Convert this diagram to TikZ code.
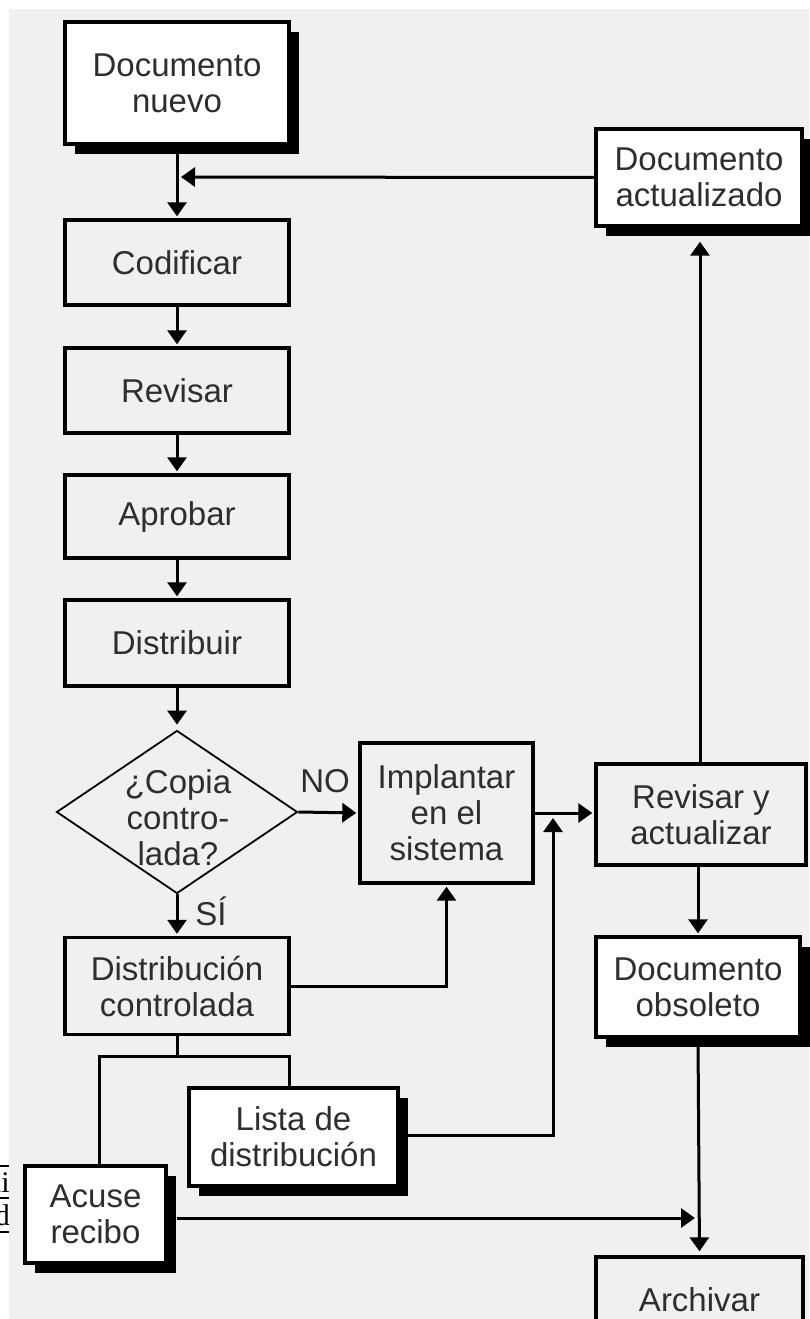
\documentclass[tikz,border=0pt]{standalone}
\usepackage{fontspec}
\setmainfont{Liberation Sans}
\newfontfamily\serifcut{Liberation Serif}
\usetikzlibrary{shapes.geometric,shadows,arrows.meta,calc}
\definecolor{bggray}{HTML}{F0F0F0}
\definecolor{inkgray}{HTML}{2E2E2E}
\begin{document}
\begin{tikzpicture}[x=1pt,y=-1pt,
  every node/.style={font=\fontsize{33}{36}\selectfont, text=inkgray, align=center},
  procbox/.style={draw=black, line width=3.4pt, fill=bggray, inner sep=0pt},
  docbox/.style={draw=black, line width=3.4pt, fill=white, inner sep=0pt,
    drop shadow={shadow xshift=10pt, shadow yshift=-10pt, fill=black, opacity=1}},
  decbox/.style={diamond, draw=black, line width=1.8pt, fill=bggray, inner sep=0pt},
  link/.style={draw=black, line width=3pt},
  arr/.style={link, -{Triangle[length=14pt,width=19pt]}, shorten >=2pt},
  tag/.style={font=\fontsize{33}{36}\selectfont}
]
% page and grey panel
\useasboundingbox (0,0) rectangle (809,1319);
\fill[white] (0,0) rectangle (809,1319);
\fill[bggray] (9,9) rectangle (809,1340);

% fragment of a neighbouring table at the left edge
\draw[black, line width=1.3pt] (0,1166) -- (9,1166) (0,1198) -- (9,1198) (0,1232) -- (9,1232);
\begin{scope}
  \clip (0,1160) rectangle (9,1240);
  \node[anchor=base east, font=\serifcut\fontsize{30}{30}\selectfont, text=black, inner sep=0pt] (fragA) at (10,1192) {ui};
  \node[anchor=base east, font=\serifcut\fontsize{30}{30}\selectfont, text=black, inner sep=0pt] (fragB) at (10,1225) {d};
\end{scope}

% left column
\node[docbox, minimum width=224pt, minimum height=122pt] (nuevo) at (177,83) {Documento\\nuevo};
\node[procbox, minimum width=224pt, minimum height=85pt] (cod) at (177,262.5) {Codificar};
\node[procbox, minimum width=224pt, minimum height=85pt] (rev) at (177,390.5) {Revisar};
\node[procbox, minimum width=224pt, minimum height=83pt] (apr) at (177,516.5) {Aprobar};
\node[procbox, minimum width=224pt, minimum height=86pt] (dis) at (177,643) {Distribuir};
\node[decbox, minimum width=241pt, minimum height=163pt] (dec) at (177,812) {};
\node[inner sep=0pt] (dectext) at (178,818) {¿Copia\\contro-\\lada?};
\node[procbox, minimum width=224pt, minimum height=97pt] (dc) at (177,986) {Distribución\\controlada};
\node[docbox, minimum width=209pt, minimum height=98pt] (lis) at (293.5,1137) {Lista de\\distribución};
\node[docbox, minimum width=141pt, minimum height=97pt] (acu) at (95.5,1214.5) {Acuse\\recibo};

% middle and right columns
\node[procbox, minimum width=173pt, minimum height=140pt] (imp) at (446.5,813) {Implantar\\en el\\sistema};
\node[procbox, minimum width=210pt, minimum height=101pt] (rya) at (701,814.5) {Revisar y\\actualizar};
\node[docbox, minimum width=206pt, minimum height=97pt] (act) at (699,177.5) {Documento\\actualizado};
\node[docbox, minimum width=204pt, minimum height=100pt] (obs) at (698,987) {Documento\\obsoleto};
\node[procbox, minimum width=207pt, minimum height=86pt] (arc) at (699.5,1300) {Archivar};

% branch labels
\node[tag, inner sep=0pt] (lno) at (325,781) {NO};
\node[tag, inner sep=0pt] (lsi) at (211,911) {SÍ};

% junction points
\coordinate (jtop) at (177,177);
\coordinate (jmid) at (553,813);
\coordinate (jsplit) at (177,1056);
\coordinate (jarc) at (698,1218);

% main sequence
\draw[arr] (nuevo.south) -- (cod.north);
\draw[arr, shorten >=4pt] (act.west) -- (jtop);
\draw[arr] (cod.south) -- (rev.north);
\draw[arr] (rev.south) -- (apr.north);
\draw[arr] (apr.south) -- (dis.north);
\draw[arr, shorten >=5pt] (dis.south) -- (dec.north);
\draw[arr] (dec.east) -- (imp.west);
\draw[arr] (dec.south) -- (dc.north);
\draw[arr] (dc.east) -| (imp.south);
\draw[arr] (imp.east) -- (imp.east -| rya.west);
\draw[arr, shorten >=14pt] ([xshift=-1pt]rya.north) -- ([xshift=-1pt]rya.north |- act.south);
\draw[arr] (obs.north |- rya.south) -- (obs.north);
\draw[arr, shorten >=4pt] (obs.south) -- (arc.north);

% distribution branches
\draw[link] (dc.south) -- (jsplit);
\draw[link] (jsplit) -| ([xshift=3.5pt]acu.north);
\draw[link] (jsplit) -| ([xshift=-4.5pt]lis.north);
\draw[arr, shorten >=5pt] ([xshift=6pt]lis.east |- 0,1135) -| (jmid);
\draw[arr, shorten >=3pt] ([xshift=9pt]acu.east |- jarc) -- (jarc);
\end{tikzpicture}
\end{document}
